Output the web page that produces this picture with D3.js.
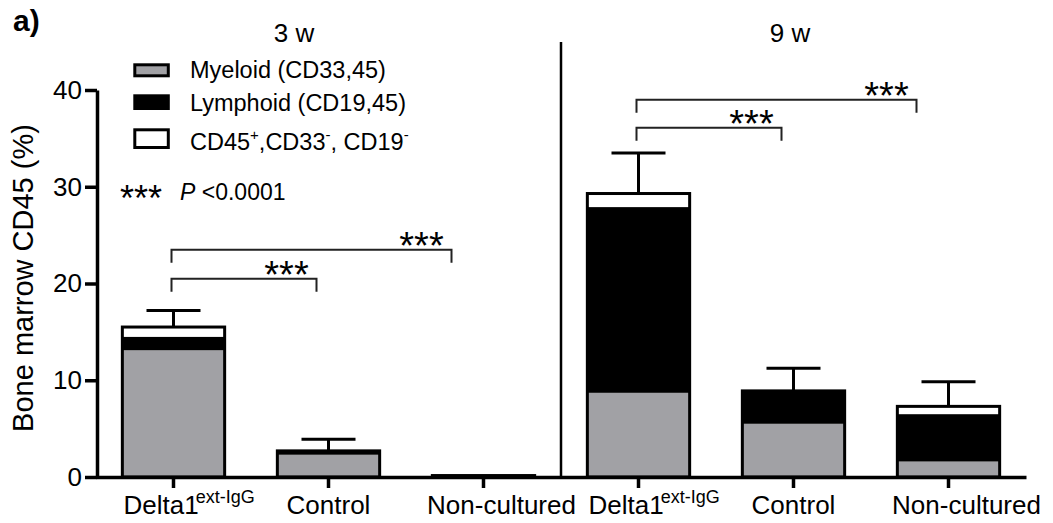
<!DOCTYPE html>
<meta charset="utf-8">
<style>
body { margin: 0; background: #fff; }
svg { font-family: "Liberation Sans", Arial, sans-serif; }
.axis path, .axis line { stroke: #000; stroke-width: 3.5px; }
.axis text { font-size: 26px; fill: #000; }
.bracket { fill: none; stroke: #222; stroke-width: 2px; }
</style>
<body>
<script src="https://d3js.org/d3.v7.min.js"></script>
<script>

// data
var groups = ["3 w", "9 w"];
var conditions = ["Delta1", "Control", "Non-cultured"];
var keys = ["3w-Delta1", "3w-Control", "3w-Non-cultured", "9w-Delta1", "9w-Control", "9w-Non-cultured"];
var myeloid  = [13.1, 2.3, 0.15, 8.7, 5.5, 1.6];
var lymphoid = [1.4, 0.4, 0.0, 19.2, 3.4, 4.9];
var other    = [1.0, 0.0, 0.0, 1.4, 0.0, 0.8];
var sem      = [1.7, 1.2, 0.0, 4.2, 2.35, 2.55];
var yTicks = [0, 10, 20, 30, 40];
var seriesNames = ["Myeloid (CD33,45)", "Lymphoid (CD19,45)", "CD45+,CD33-, CD19-"];
var seriesColors = ["#a1a1a5", "#000000", "#ffffff"];
// significance brackets: from, to, height (in % units)
var brackets = [
	{ from: "3w-Delta1", to: "3w-Control", y: 20.5 },
	{ from: "3w-Delta1", to: "3w-Non-cultured", y: 23.5 },
	{ from: "9w-Delta1", to: "9w-Control", y: 36.1 },
	{ from: "9w-Delta1", to: "9w-Non-cultured", y: 39.0 }
];

var width = 1053, height = 523;

var svg = d3.select("body").append("svg")
	.attr("width", width)
	.attr("height", height);

var x = d3.scaleBand()
	.domain(keys)
	.range([96, 1026])
	.paddingInner(0.34)
	.paddingOuter(0.17);

var y = d3.scaleLinear()
	.domain([0, 40])
	.range([477, 90]);

// stacked data
var rows = keys.map(function(k, i) {
	return { key: k, myeloid: myeloid[i], lymphoid: lymphoid[i], other: other[i], sem: sem[i] };
});
var stack = d3.stack().keys(["myeloid", "lymphoid", "other"])(rows);

// bar segments (no stroke, outline drawn after)
svg.append("g").selectAll("g")
	.data(stack)
	.enter().append("g")
		.attr("fill", function(d, i) { return seriesColors[i]; })
	.selectAll("rect")
	.data(function(d) { return d; })
	.enter().append("rect")
		.attr("x", function(d) { return x(d.data.key); })
		.attr("width", x.bandwidth())
		.attr("y", function(d) { return y(d[1]); })
		.attr("height", function(d) { return y(d[0]) - y(d[1]); });

// error bars
var eb = svg.append("g")
	.attr("stroke", "#000")
	.attr("stroke-width", 3)
	.selectAll("g")
	.data(rows.filter(function(d) { return d.sem > 0; }))
	.enter().append("g");
eb.append("line")
	.attr("x1", function(d) { return x(d.key) + x.bandwidth() / 2; })
	.attr("x2", function(d) { return x(d.key) + x.bandwidth() / 2; })
	.attr("y1", function(d) { return y(d.myeloid + d.lymphoid + d.other); })
	.attr("y2", function(d) { return y(d.myeloid + d.lymphoid + d.other + d.sem); });
eb.append("line")
	.attr("x1", function(d) { return x(d.key) + x.bandwidth() / 2 - 27; })
	.attr("x2", function(d) { return x(d.key) + x.bandwidth() / 2 + 27; })
	.attr("y1", function(d) { return y(d.myeloid + d.lymphoid + d.other + d.sem); })
	.attr("y2", function(d) { return y(d.myeloid + d.lymphoid + d.other + d.sem); });

// bar outlines
svg.append("g").selectAll("rect")
	.data(rows)
	.enter().append("rect")
		.attr("x", function(d) { return x(d.key); })
		.attr("width", x.bandwidth())
		.attr("y", function(d) { return y(d.myeloid + d.lymphoid + d.other); })
		.attr("height", function(d) { return y(0) - y(d.myeloid + d.lymphoid + d.other); })
		.attr("fill", "none")
		.attr("stroke", "#000")
		.attr("stroke-width", 3);

// axes
svg.append("g")
	.attr("class", "axis")
	.attr("transform", "translate(0," + y(0) + ")")
	.call(d3.axisBottom(x).tickSizeInner(11).tickSizeOuter(0).tickFormat(""));

svg.append("g")
	.attr("class", "axis")
	.attr("transform", "translate(97,0)")
	.call(d3.axisLeft(y).tickValues(yTicks).tickSizeInner(12).tickSizeOuter(0).tickPadding(3));

// category labels
var labels = svg.append("g")
	.attr("font-size", 26)
	.selectAll("text")
	.data(keys)
	.enter().append("text")
		.attr("y", 514)
		.attr("x", function(d) {
			var c = x(d) + x.bandwidth() / 2;
			var name = d.split("-").slice(1).join("-");
			if (name === "Delta1") return c - 50;
			if (name === "Non-cultured") return c + 18;
			return c;
		})
		.attr("text-anchor", function(d) { return d.indexOf("Delta1") >= 0 ? "start" : "middle"; });
labels.append("tspan")
	.text(function(d) { return d.split("-").slice(1).join("-"); });
labels.filter(function(d) { return d.indexOf("Delta1") >= 0; })
	.append("tspan")
		.attr("font-size", 18)
		.attr("dy", -11)
		.attr("dx", -3)
		.text("ext-IgG");

// divider between the two time points
var divX = x(keys[3]) - x.step() * x.paddingInner() / 2;
svg.append("line")
	.attr("x1", divX).attr("x2", divX)
	.attr("y1", 42).attr("y2", y(0))
	.attr("stroke", "#000")
	.attr("stroke-width", 2.5);

// group titles
svg.append("text").attr("x", 294).attr("y", 42).attr("font-size", 26)
	.attr("text-anchor", "middle").text(groups[0]);
svg.append("text").attr("x", 790).attr("y", 42).attr("font-size", 26)
	.attr("text-anchor", "middle").text(groups[1]);

// panel letter
svg.append("text").attr("x", 13).attr("y", 31).attr("font-size", 30)
	.attr("font-weight", "bold").text("a)");

// y title
svg.append("text")
	.attr("transform", "translate(33,278) rotate(-90)")
	.attr("text-anchor", "middle")
	.attr("font-size", 29)
	.text("Bone marrow CD45 (%)");

// legend
var legBoxes = [[63.3, 77.3], [94.3, 110], [128.3, 149]];
var legBase = [77.5, 110.5, 149.5];
var leg = svg.append("g").selectAll("g")
	.data(seriesNames)
	.enter().append("g");
leg.append("rect")
	.attr("x", 134.8)
	.attr("width", 33.5)
	.attr("y", function(d, i) { return legBoxes[i][0] + 1.5; })
	.attr("height", function(d, i) { return legBoxes[i][1] - legBoxes[i][0] - 3; })
	.attr("fill", function(d, i) { return seriesColors[i]; })
	.attr("stroke", "#000")
	.attr("stroke-width", 3);
var legText = leg.append("text")
	.attr("x", 190)
	.attr("y", function(d, i) { return legBase[i]; })
	.attr("font-size", 23.5);
legText.filter(function(d, i) { return i < 2; }).text(function(d) { return d; });
var t3 = legText.filter(function(d, i) { return i === 2; });
t3.append("tspan").text("CD45");
t3.append("tspan").attr("font-size", 15).attr("dy", -10).text("+");
t3.append("tspan").attr("dy", 10).text(",CD33");
t3.append("tspan").attr("font-size", 15).attr("dy", -10).text("-");
t3.append("tspan").attr("dy", 10).text(", CD19");
t3.append("tspan").attr("font-size", 15).attr("dy", -10).text("-");

// p-value note
svg.append("text").attr("x", 141).attr("y", 211).attr("font-size", 36)
	.attr("text-anchor", "middle").text("***");
var pt = svg.append("text").attr("x", 180).attr("y", 200).attr("font-size", 23);
pt.append("tspan").attr("font-style", "italic").text("P");
pt.append("tspan").text(" <0.0001");

// significance brackets
var bg = svg.append("g").selectAll("g")
	.data(brackets)
	.enter().append("g");
bg.append("path")
	.attr("class", "bracket")
	.attr("d", function(d) {
		var far = keys.indexOf(d.to) - keys.indexOf(d.from) > 1;
		var x1 = x(d.from) + x.bandwidth() / 2 - 2;
		var x2 = x(d.to) + x.bandwidth() / 2 - (far ? 32 : 12);
		var yy = y(d.y);
		return "M" + x1 + "," + (yy + 13) + "V" + yy + "H" + x2 + "V" + (yy + 13);
	});
bg.append("text")
	.attr("font-size", 38)
	.attr("text-anchor", "middle")
	.attr("x", function(d) {
		var far = keys.indexOf(d.to) - keys.indexOf(d.from) > 1;
		return x(d.to) + x.bandwidth() / 2 - (far ? 32 : 12) - 30;
	})
	.attr("y", function(d) { return y(d.y) + 9; })
	.text("***");

</script>
</body>
